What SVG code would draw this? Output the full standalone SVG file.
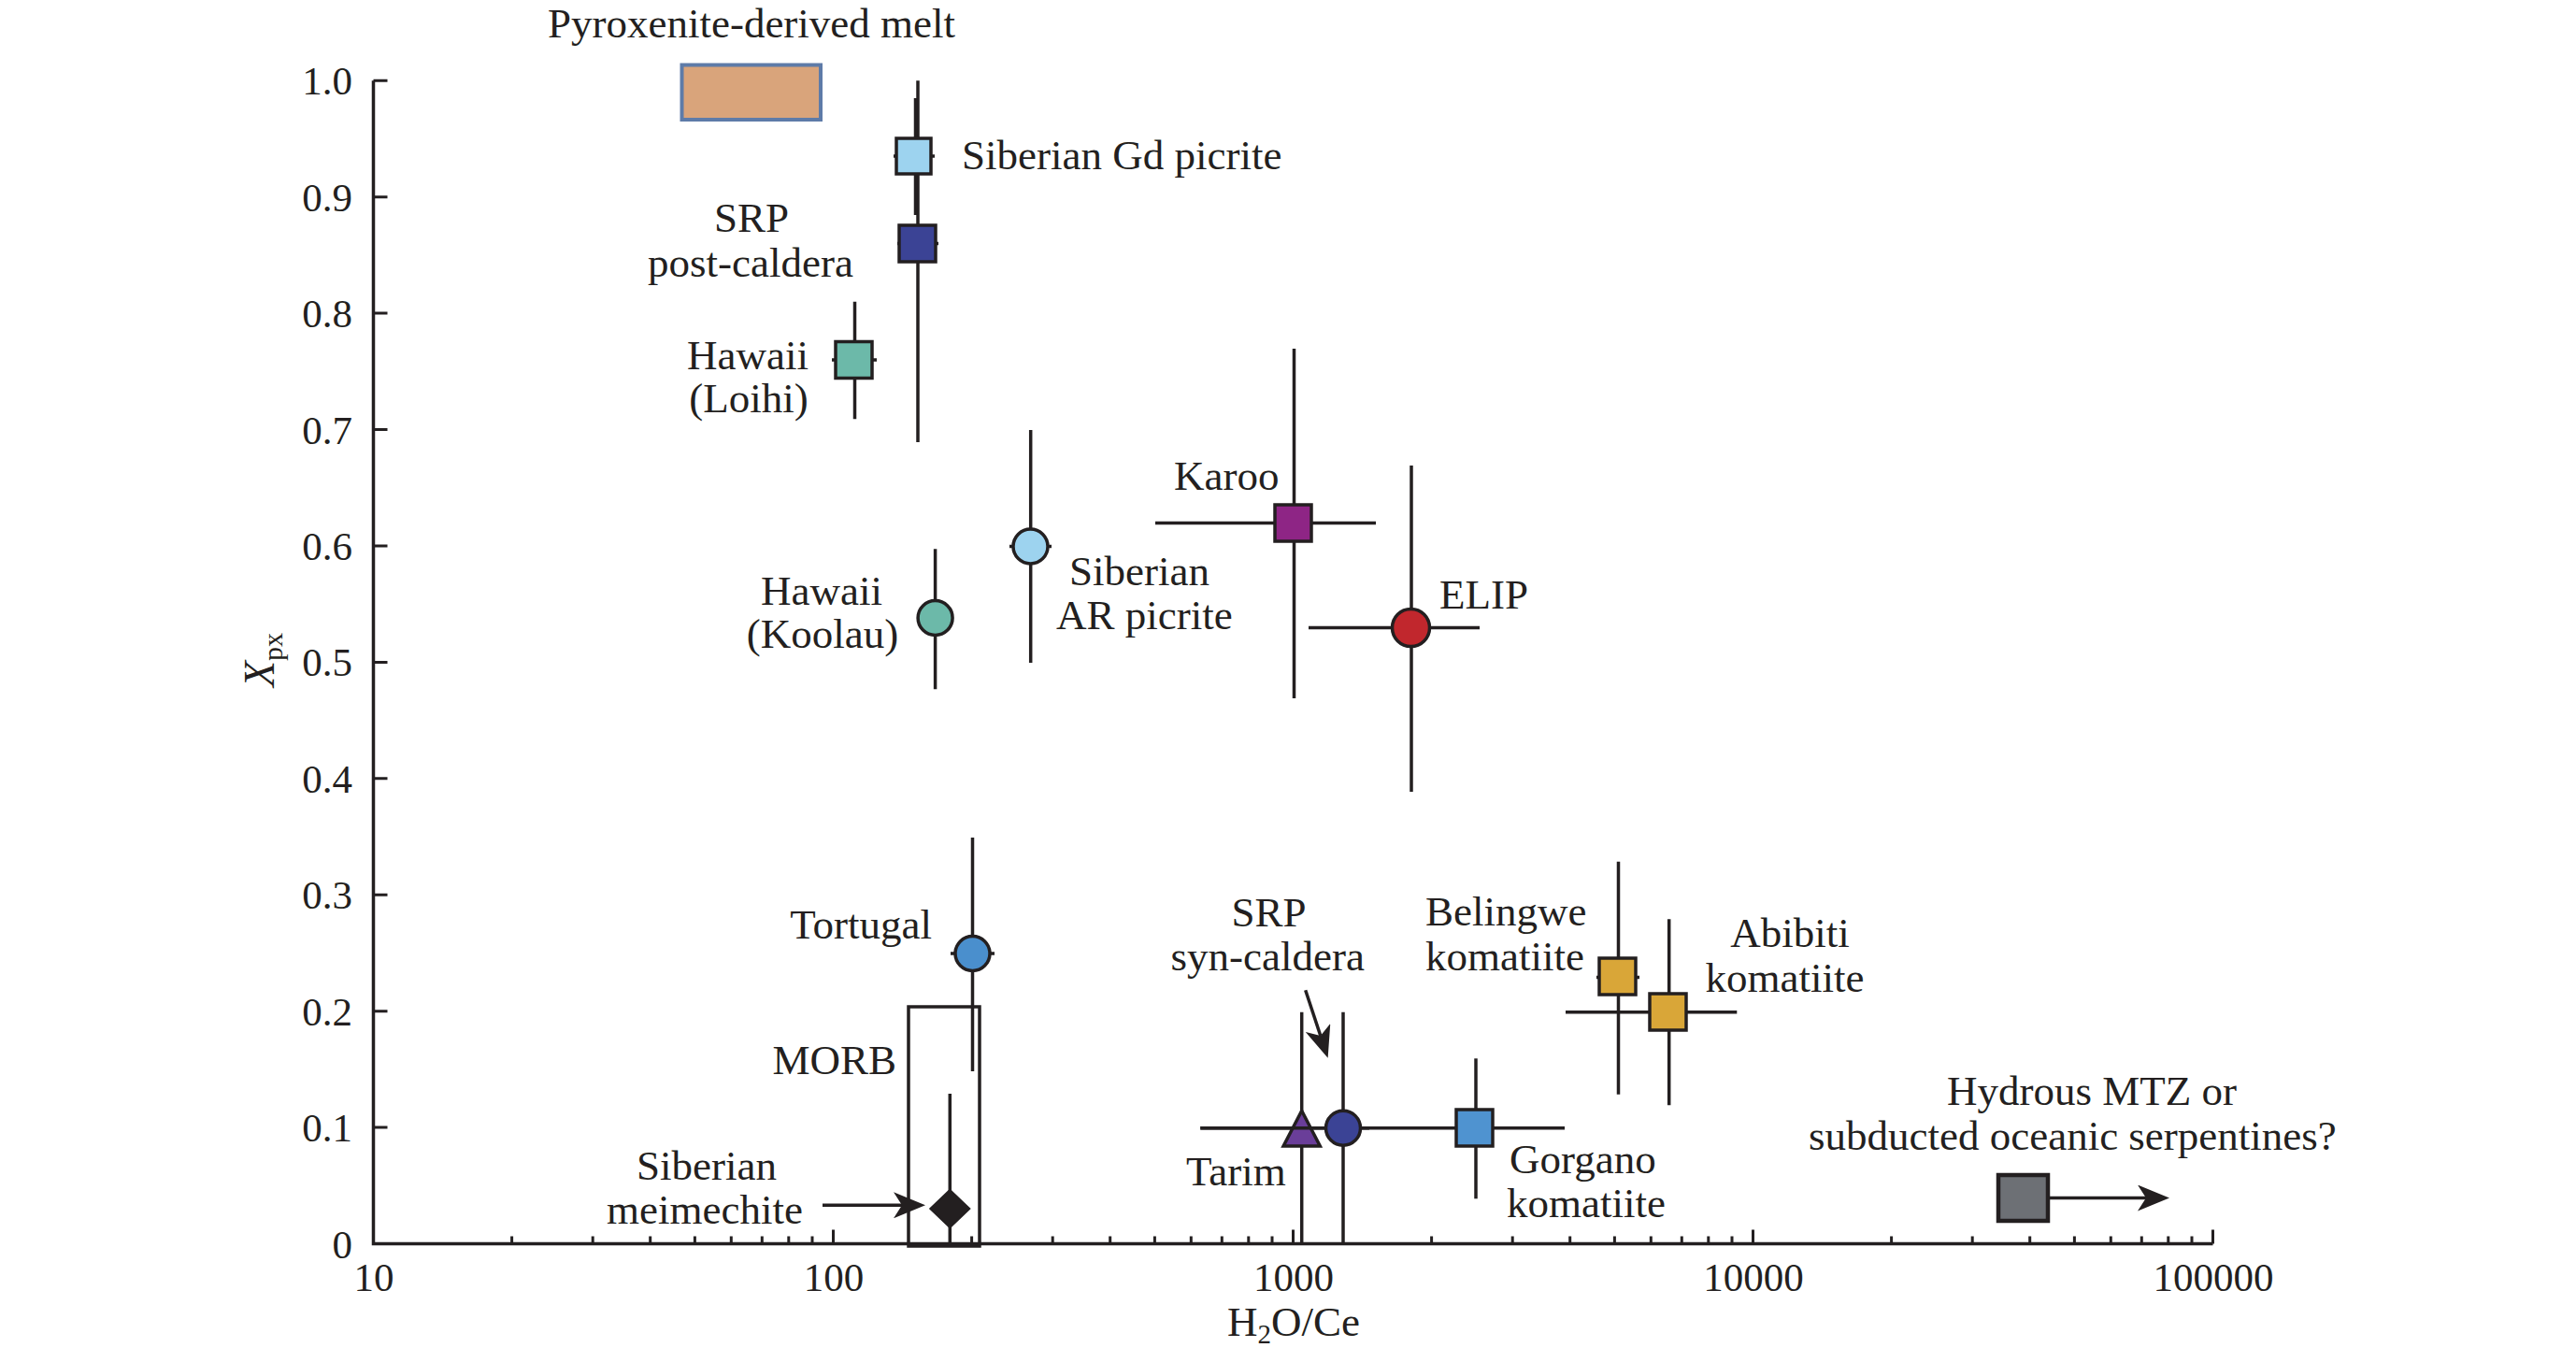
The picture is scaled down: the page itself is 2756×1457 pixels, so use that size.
<svg xmlns="http://www.w3.org/2000/svg" width="2756" height="1457" viewBox="0 0 2756 1457">
<style>
text{font-family:"Liberation Serif","Times New Roman",serif;fill:#231F20;}
.lbl{font-size:45px;}
.tk{font-size:43px;}
.ax{fill:none;stroke:#231F20;stroke-width:3.5;}
.tick{stroke:#231F20;stroke-width:3;}
.eb{stroke:#231F20;stroke-width:3.5;fill:none;}
.mk{stroke:#231F20;stroke-width:3.5;}
.arr{stroke:#231F20;stroke-width:3.5;fill:none;marker-end:url(#ah);}
</style>
<defs>
<marker id="ah" viewBox="0 -14 34 28" refX="9" refY="0" markerWidth="34" markerHeight="28" markerUnits="userSpaceOnUse" orient="auto">
<path d="M0,-14 L34,0 L0,14 L9,0 Z" fill="#231F20"/>
</marker>
</defs>
<rect width="2756" height="1457" fill="#fff"/>

<g id="axes">
<path class="ax" d="M399.5,86.3 V1330.5 H2367.5"/>
<g class="tick">
<path d="M399.5,1206.1h15M399.5,1081.7h15M399.5,957.2h15M399.5,832.8h15M399.5,708.4h15M399.5,584h15M399.5,459.6h15M399.5,335.1h15M399.5,210.7h15M399.5,86.3h15"/>
<path d="M891.5,1330.5v-15M1383.5,1330.5v-15M1875.5,1330.5v-15M2367.5,1330.5v-15"/>
<path d="M547.6,1330.5v-8M634.2,1330.5v-8M695.7,1330.5v-8M743.4,1330.5v-8M782.3,1330.5v-8M815.3,1330.5v-8M843.8,1330.5v-8M869,1330.5v-8
M1039.6,1330.5v-8M1126.2,1330.5v-8M1187.7,1330.5v-8M1235.4,1330.5v-8M1274.3,1330.5v-8M1307.3,1330.5v-8M1335.8,1330.5v-8M1361,1330.5v-8
M1531.6,1330.5v-8M1618.2,1330.5v-8M1679.7,1330.5v-8M1727.4,1330.5v-8M1766.3,1330.5v-8M1799.3,1330.5v-8M1827.8,1330.5v-8M1853,1330.5v-8
M2023.6,1330.5v-8M2110.2,1330.5v-8M2171.7,1330.5v-8M2219.4,1330.5v-8M2258.3,1330.5v-8M2291.3,1330.5v-8M2319.8,1330.5v-8M2345,1330.5v-8"/>
</g>
<g class="tk" text-anchor="end">
<text x="377" y="1345.5">0</text>
<text x="377" y="1221.1">0.1</text>
<text x="377" y="1096.7">0.2</text>
<text x="377" y="972.2">0.3</text>
<text x="377" y="847.8">0.4</text>
<text x="377" y="723.4">0.5</text>
<text x="377" y="599">0.6</text>
<text x="377" y="474.6">0.7</text>
<text x="377" y="350.1">0.8</text>
<text x="377" y="225.7">0.9</text>
<text x="377" y="101.3">1.0</text>
</g>
<g class="tk" text-anchor="middle">
<text x="400" y="1381">10</text>
<text x="892" y="1381">100</text>
<text x="1384" y="1381">1000</text>
<text x="1876" y="1381">10000</text>
<text x="2368" y="1381">100000</text>
</g>
<text class="lbl" x="1384" y="1429" text-anchor="middle">H<tspan font-size="29" dy="8">2</tspan><tspan dy="-8">O/Ce</tspan></text>
<text transform="translate(293,706) rotate(-90)" text-anchor="middle"><tspan font-style="italic" font-size="46">X</tspan><tspan font-size="30" dy="9">px</tspan></text>
</g>

<g id="pyroxenite-melt">
<rect x="729.5" y="69.5" width="148.5" height="58.5" fill="#D9A47B" stroke="#5E7BA8" stroke-width="4"/>
<text class="lbl" x="804" y="40" text-anchor="middle">Pyroxenite-derived melt</text>
</g>

<g id="srp-post-caldera">
<path class="eb" d="M982,86.3V473M960,260.5h44"/>
<rect class="mk" x="962" y="241" width="39" height="39" fill="#3B4395"/>
<text class="lbl" x="804" y="248" text-anchor="middle">SRP</text>
<text class="lbl" x="803" y="296" text-anchor="middle">post-caldera</text>
</g>

<g id="siberian-gd-picrite">
<path class="eb" d="M979.5,105V230" stroke-width="4.5"/>
<path class="eb" d="M956,167h44"/>
<rect class="mk" x="959" y="148" width="37" height="38" fill="#9DD3EF"/>
<text class="lbl" x="1029" y="181">Siberian Gd picrite</text>
</g>

<g id="hawaii-loihi">
<path class="eb" d="M914.5,322.7V448.3M890,385h48"/>
<rect class="mk" x="894" y="365.5" width="39" height="39" fill="#6CB9A9"/>
<text class="lbl" x="800" y="395" text-anchor="middle">Hawaii</text>
<text class="lbl" x="801" y="441" text-anchor="middle">(Loihi)</text>
</g>

<g id="hawaii-koolau">
<path class="eb" d="M1000.6,587.3V737.3"/>
<circle class="mk" cx="1000.6" cy="661" r="18.5" fill="#6CB9A9"/>
<text class="lbl" x="879" y="647" text-anchor="middle">Hawaii</text>
<text class="lbl" x="880" y="693" text-anchor="middle">(Koolau)</text>
</g>

<g id="siberian-ar-picrite">
<path class="eb" d="M1102.7,460V709M1080,584.5h45"/>
<circle class="mk" cx="1102.5" cy="584.5" r="18.5" fill="#9DD3EF"/>
<text class="lbl" x="1144" y="626">Siberian</text>
<text class="lbl" x="1130" y="673">AR picrite</text>
</g>

<g id="karoo">
<path class="eb" d="M1384.5,373V747M1236,559.5H1472"/>
<rect class="mk" x="1364" y="540" width="39" height="39" fill="#8E2585"/>
<text class="lbl" x="1256" y="524">Karoo</text>
</g>

<g id="elip">
<path class="eb" d="M1510,498V847M1400,671.5H1583"/>
<circle class="mk" cx="1509.5" cy="671.5" r="20" fill="#C1272D"/>
<text class="lbl" x="1540" y="651">ELIP</text>
</g>

<g id="tortugal">
<path class="eb" d="M1040.5,896V1146M1017,1020h47"/>
<circle class="mk" cx="1040.5" cy="1020" r="18.5" fill="#4A8FCD"/>
<text class="lbl" x="997" y="1003.5" text-anchor="end">Tortugal</text>
</g>

<g id="morb">
<rect x="972" y="1077" width="76" height="256" fill="none" stroke="#231F20" stroke-width="3.5"/>
<text class="lbl" x="959" y="1149" text-anchor="end">MORB</text>
</g>

<g id="siberian-meimechite">
<path class="eb" d="M1016.3,1170V1330"/>
<path d="M1016.3,1273 L1037.3,1293 L1016.3,1313 L995.3,1293 Z" fill="#231F20" stroke="#231F20" stroke-width="2"/>
<text class="lbl" x="756" y="1262" text-anchor="middle">Siberian</text>
<text class="lbl" x="754" y="1309" text-anchor="middle">meimechite</text>
</g>

<g id="tarim">
<path class="eb" d="M1392.7,1082.7V1330M1284.3,1206.7H1674"/>
<path class="mk" d="M1392.7,1188.3 L1412.3,1226 L1373.1,1226 Z" fill="#6A3E99" stroke-linejoin="miter"/>
<text class="lbl" x="1269" y="1268">Tarim</text>
</g>

<g id="srp-syn-caldera">
<path class="eb" d="M1437,1082.7V1330M1284.3,1206.7H1465"/>
<circle class="mk" cx="1437" cy="1206.7" r="18.5" fill="#3B4395"/>
<text class="lbl" x="1357.5" y="990.5" text-anchor="middle">SRP</text>
<text class="lbl" x="1356.3" y="1038.3" text-anchor="middle">syn-caldera</text>
</g>

<g id="gorgano-komatiite">
<path class="eb" d="M1579,1132.3V1282.3"/>
<rect class="mk" x="1558" y="1187" width="39" height="39" fill="#4F93D0"/>
<text class="lbl" x="1615" y="1255">Gorgano</text>
<text class="lbl" x="1612" y="1301.7">komatiite</text>
</g>

<g id="belingwe-komatiite">
<path class="eb" d="M1731.5,921.7V1170.7M1708,1045.5h46"/>
<rect class="mk" x="1711" y="1025" width="39" height="39" fill="#D9A638"/>
<text class="lbl" x="1525" y="990">Belingwe</text>
<text class="lbl" x="1525" y="1038.3">komatiite</text>
</g>

<g id="abibiti-komatiite">
<path class="eb" d="M1785.7,983.3V1182.3M1675,1082.7H1858.3"/>
<rect class="mk" x="1765" y="1063" width="39" height="39" fill="#D9A638"/>
<text class="lbl" x="1915" y="1012.7" text-anchor="middle">Abibiti</text>
<text class="lbl" x="1909.5" y="1061" text-anchor="middle">komatiite</text>
</g>

<g id="hydrous-mtz">
<rect x="2138" y="1257" width="53" height="49" fill="#6D7075" stroke="#231F20" stroke-width="4.5"/>
<text class="lbl" x="2083" y="1181.7">Hydrous MTZ or</text>
<text class="lbl" x="1935" y="1230">subducted oceanic serpentines?</text>
</g>

<g id="connectors">
<path class="arr" d="M880,1289.3H965"/>
<path class="arr" d="M1396.7,1059.3L1412.8,1108"/>
<path class="arr" d="M2193,1281.5H2296"/>
</g>
</svg>
